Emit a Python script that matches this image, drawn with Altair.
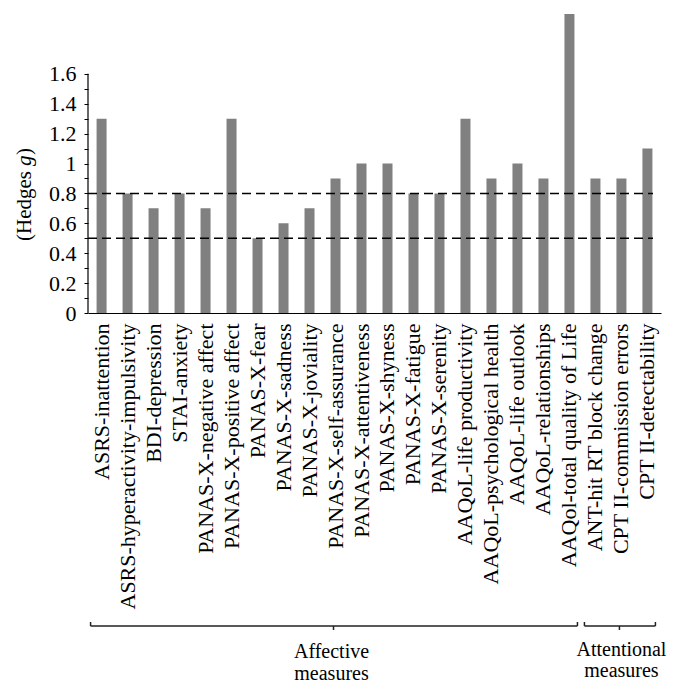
import altair as alt
import pandas as pd

measures = [
    "ASRS-inattention", "ASRS-hyperactivity-impulsivity", "BDI-depression",
    "STAI-anxiety", "PANAS-X-negative affect", "PANAS-X-positive affect",
    "PANAS-X-fear", "PANAS-X-sadness", "PANAS-X-joviality",
    "PANAS-X-self-assurance", "PANAS-X-attentiveness", "PANAS-X-shyness",
    "PANAS-X-fatigue", "PANAS-X-serenity", "AAQoL-life productivity",
    "AAQoL-psychological health", "AAQoL-life outlook", "AAQoL-relationships",
    "AAQol-total quality of Life", "ANT-hit RT block change",
    "CPT II-commission errors", "CPT II-detectability",
]
hedges_g = [1.3, 0.8, 0.7, 0.8, 0.7, 1.3, 0.5, 0.6, 0.7, 0.9, 1.0, 1.0,
            0.8, 0.8, 1.3, 0.9, 1.0, 0.9, 2.0, 0.9, 0.9, 1.1]
ref_lines = [0.8, 0.5]
y_ticks = [round(i * 0.1, 1) for i in range(17)]

group_names = ["Affective", "Attentional"]
group_labels = ["Affective\nmeasures", "Attentional\nmeasures"]
group_start = ["ASRS-inattention", "ANT-hit RT block change"]
group_end = ["AAQol-total quality of Life", "CPT II-detectability"]
group_mid = ["PANAS-X-self-assurance", "CPT II-commission errors"]

FONT = "Liberation Serif"
W, H = 573, 299

bars_df = pd.DataFrame({"measure": measures, "g": hedges_g})
ref_df = pd.DataFrame({"y": ref_lines})
axis_df = pd.DataFrame({"y0": [0.0], "y1": [1.6]})
grp_df = pd.DataFrame({"group": group_names, "label": group_labels,
                       "start": group_start, "end": group_end, "mid": group_mid})

xscale = alt.Scale(domain=measures, paddingInner=0.615, paddingOuter=0.33)
yscale = alt.Scale(domain=[0, 2.0], nice=False, zero=True)

X_AXIS = alt.Axis(title=None, labelAngle=270, labelFont=FONT,
                  labelFontSize=22, labelColor="black", labelLimit=400,
                  labelPadding=10, labelOverlap=False, ticks=False,
                  domainColor="black", domainWidth=1.2)
Y_AXIS = alt.Axis(title=None, values=y_ticks, domain=False, grid=False,
                  tickSize=4, tickColor="black", tickWidth=1,
                  labelFont=FONT, labelFontSize=22, labelColor="black",
                  labelPadding=8, labelOverlap=False,
                  labelExpr="round(datum.value*10) % 2 == 0 ? format(datum.value, '~g') : ''")

bars = alt.Chart(bars_df).mark_bar(color="#808080").encode(
    x=alt.X("measure:N", scale=xscale, sort=None, axis=X_AXIS),
    y=alt.Y("g:Q", scale=yscale, axis=Y_AXIS),
)

yaxis_line = alt.Chart(axis_df).mark_rule(color="black", strokeWidth=1.2).encode(
    x=alt.value(0), y=alt.Y("y0:Q", scale=yscale, axis=Y_AXIS), y2="y1:Q")

refs = alt.Chart(ref_df).mark_rule(color="black", strokeWidth=1.5, strokeDash=[9, 5]).encode(
    x=alt.value(0), x2=alt.value(565), y=alt.Y("y:Q", scale=yscale, axis=Y_AXIS))

title_a = alt.Chart(axis_df).mark_text(text="(Hedges", font=FONT, fontSize=21, angle=270,
                                       align="right", baseline="middle", color="black").encode(
    x=alt.value(-63), y=alt.value(157))
title_g = alt.Chart(axis_df).mark_text(text="g", font=FONT, fontSize=21, fontStyle="italic",
                                       angle=270, align="left", baseline="middle", color="black").encode(
    x=alt.value(-63), y=alt.value(152))
title_c = alt.Chart(axis_df).mark_text(text=")", font=FONT, fontSize=21, angle=270,
                                       align="left", baseline="middle", color="black").encode(
    x=alt.value(-63), y=alt.value(141))

BY = 612
br_h = alt.Chart(grp_df).mark_rule(color="#222", strokeWidth=1.5, xOffset=-11, x2Offset=8).encode(
    x=alt.X("start:N", scale=xscale, axis=X_AXIS), x2="end:N", y=alt.value(BY))
br_l = alt.Chart(grp_df).mark_rule(color="#222", strokeWidth=1.5, xOffset=-11).encode(
    x=alt.X("start:N", scale=xscale, axis=X_AXIS), y=alt.value(BY - 4), y2=alt.value(BY))
br_r = alt.Chart(grp_df).mark_rule(color="#222", strokeWidth=1.5, xOffset=8).encode(
    x=alt.X("end:N", scale=xscale, axis=X_AXIS), y=alt.value(BY - 4), y2=alt.value(BY))
br_m = alt.Chart(grp_df).mark_rule(color="#222", strokeWidth=1.5, xOffset=-2).encode(
    x=alt.X("mid:N", scale=xscale, axis=X_AXIS), y=alt.value(BY), y2=alt.value(BY + 4))

lab_aff = alt.Chart(grp_df).transform_filter("datum.group == 'Affective'").mark_text(
    font=FONT, fontSize=20, lineBreak="\n", lineHeight=22, baseline="top",
    align="center", dx=-4, color="black").encode(
    x=alt.X("mid:N", scale=xscale, axis=X_AXIS), y=alt.value(BY + 16), text="label:N")
lab_att = alt.Chart(grp_df).transform_filter("datum.group == 'Attentional'").mark_text(
    font=FONT, fontSize=20, lineBreak="\n", lineHeight=21, baseline="top",
    align="center", color="black").encode(
    x=alt.X("mid:N", scale=xscale, axis=X_AXIS), y=alt.value(BY + 14), text="label:N")

chart = alt.layer(
    bars, refs, yaxis_line, title_a, title_g, title_c,
    br_h, br_l, br_r, br_m, lab_aff, lab_att,
).properties(
    width=W, height=H,
    background="white",
    autosize=alt.AutoSizeParams(type="none"),
    padding={"left": 80, "top": 6, "right": 14, "bottom": 378},
).configure_view(stroke=None).configure_axis(labelFont=FONT)

chart.save("out.html", embed_options={"renderer": "svg", "actions": False})
